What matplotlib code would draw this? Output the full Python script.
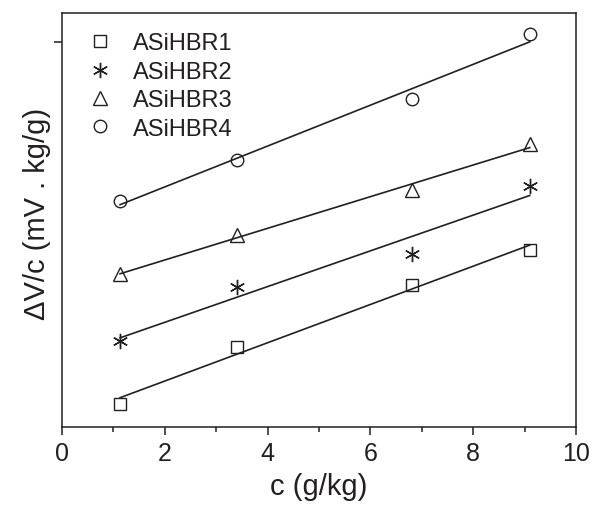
import matplotlib.pyplot as plt
import numpy as np

# dados (eixo y sem escala, unidades arbitrarias)
c = [1.13, 3.40, 6.81, 9.10]
r1 = [2.3, 8.0, 14.2, 17.7]
r2 = [8.65, 14.05, 17.3, 24.1]
r3 = [15.3, 19.2, 23.7, 28.3]
r4 = [22.65, 26.7, 32.8, 39.3]
nomes = ['ASiHBR1', 'ASiHBR2', 'ASiHBR3', 'ASiHBR4']

plt.rcParams['font.family'] = ['Liberation Sans', 'DejaVu Sans']
cor = '#231f20'

fig = plt.figure(figsize=(5.92, 5.06), dpi=100)
ax = fig.add_axes([62/592, 78/506, 514/592, 414/506])

marcadores = ['s', (6, 2, 0), '^', 'o']
tamanhos = [8.5, 11, 10, 9]
for y, m, ms, nome in zip([r1, r2, r3, r4], marcadores, tamanhos, nomes):
    a, b = np.polyfit(c, y, 1)
    xs = np.array([c[0], c[-1]])
    ax.plot(xs, a*xs + b, color=cor, lw=1.2)
    ax.plot(c, y, linestyle='none', marker=m, ms=ms, mfc='none', mec=cor,
            mew=1.0, label=nome)

ax.set_xlim(0, 10)
ax.set_ylim(0, 41.4)
ax.set_xticks([0, 2, 4, 6, 8, 10])
ax.set_xticks([1, 3, 5, 7, 9], minor=True)
ax.set_yticks([38.5])
ax.set_yticklabels([])
ax.tick_params(axis='both', which='major', direction='out', length=6, width=1.1,
               labelsize=18, color=cor, labelcolor=cor, pad=4)
ax.tick_params(axis='x', which='minor', direction='out', length=3.5, width=1.1, color=cor)
for s in ax.spines.values():
    s.set_linewidth(1.1)
    s.set_color(cor)

ax.set_xlabel('c (g/kg)', fontsize=21, color=cor, labelpad=5)
ax.set_ylabel('ΔV/c (mV . kg/g)', fontsize=21, color=cor)
ax.yaxis.set_label_coords(-0.022, 0.518)

ax.legend(loc='upper left', bbox_to_anchor=(0.051, 0.953), frameon=False,
          fontsize=17, handlelength=1.0, handletextpad=0.9, labelspacing=0.27,
          borderpad=0, borderaxespad=0, numpoints=1, labelcolor=cor)

fig.savefig('out.png', dpi=100)
